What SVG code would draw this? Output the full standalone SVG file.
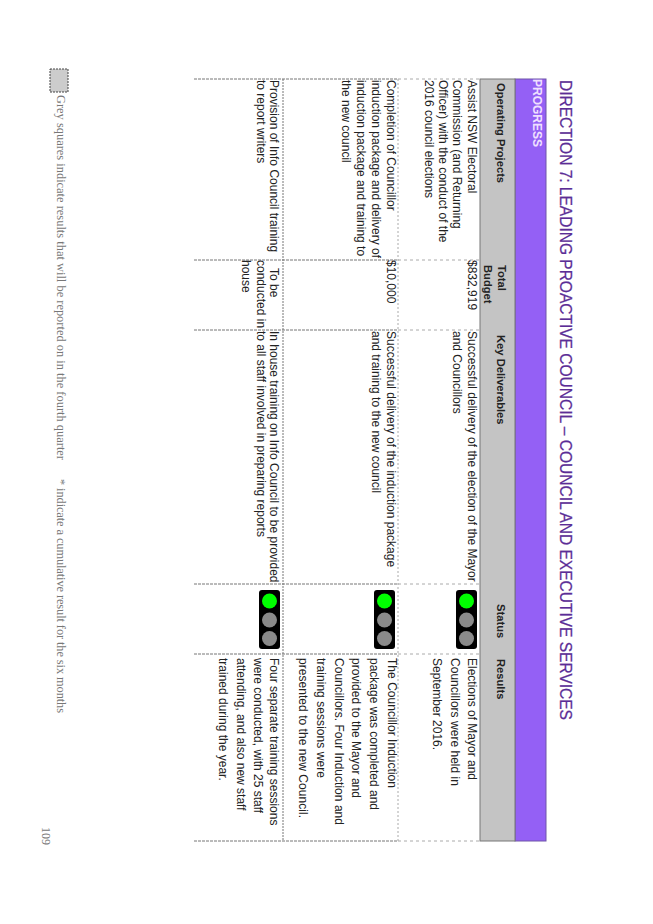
<svg xmlns="http://www.w3.org/2000/svg" width="653" height="924" viewBox="0 0 653 924">
<style>
text{font-family:"Liberation Sans",Arial,sans-serif;fill:#222}
.b{font-size:12px}
.h{font-size:11.2px;font-weight:bold}
.t{font-size:15.6px;fill:#5b2d96;stroke:#5b2d96;stroke-width:.25}
.p{font-size:12px;font-weight:bold;fill:#f0e0ff}
.f{font-family:"Liberation Serif",serif;font-size:12.4px;fill:#777}
.d{stroke:#777;stroke-width:1;stroke-dasharray:3 1;fill:none}
.l{stroke:#aaa;stroke-width:1;stroke-dasharray:3 3;fill:none}
.g{fill:#8a8a8a}
</style>
<rect width="653" height="924" fill="#fff"/>
<text class="t" transform="translate(560,80) rotate(90)" textLength="640">DIRECTION 7: LEADING PROACTIVE COUNCIL – COUNCIL AND EXECUTIVE SERVICES</text>
<g id="header">
<rect x="515" y="79" width="31" height="762" fill="#9460f5" stroke="#6f55a8"/>
<rect x="480" y="79" width="35" height="762" fill="#c4c4c4" stroke="#777"/>
<text class="p" transform="translate(533,79) rotate(90)">PROGRESS</text>
<text class="h" transform="translate(497,83) rotate(90)">Operating Projects</text>
<text class="h" transform="translate(498,265) rotate(90)">Total</text>
<text class="h" transform="translate(484,265) rotate(90)">Budget</text>
<text class="h" transform="translate(497,335) rotate(90)">Key Deliverables</text>
<text class="h" transform="translate(497,604) rotate(90)">Status</text>
<text class="h" transform="translate(497,659) rotate(90)">Results</text>
</g>
<g id="connectors">
<path class="d" d="M194 79H398M194 260H398M194 330H398M194 584H398M194 654H398M194 841H398"/>
<path class="l" d="M398 79H480M398 260H480M398 330H480M398 584H480M398 654H480M398 841H480"/>
<path d="M283 79V841" stroke="#777" stroke-dasharray="2 1" fill="none"/>
<path d="M398 79V841" stroke="#aaa" stroke-dasharray="2 2" fill="none"/>
</g>
<g id="row1">
<text class="b" transform="translate(468,80) rotate(90)">Assist NSW Electoral</text>
<text class="b" transform="translate(453,80) rotate(90)">Commission (and Returning</text>
<text class="b" transform="translate(439,80) rotate(90)">Officer) with the conduct of the</text>
<text class="b" transform="translate(425,80) rotate(90)">2016 council elections</text>
<text class="b" transform="translate(468,260) rotate(90)">$832,919</text>
<text class="b" transform="translate(468,331) rotate(90)">Successful delivery of the election of the Mayor</text>
<text class="b" transform="translate(453,331) rotate(90)">and Councillors</text>
<text class="b" transform="translate(468,658) rotate(90)" textLength="122">Elections of Mayor and</text>
<text class="b" transform="translate(451,658) rotate(90)" textLength="128">Councillors were held in</text>
<text class="b" transform="translate(433,658) rotate(90)">September 2016.</text>
<g id="light1"><rect x="456" y="590" width="21" height="59" rx="3" fill="#000"/><circle cx="466.500" cy="601" r="7.500" fill="#0f0"/><circle class="g" cx="466.500" cy="620" r="7.500"/><circle class="g" cx="466.500" cy="638.500" r="7.500"/></g>
</g>
<g id="row2">
<text class="b" transform="translate(387,80) rotate(90)">Completion of Councillor</text>
<text class="b" transform="translate(372,80) rotate(90)">induction package and delivery of</text>
<text class="b" transform="translate(357,80) rotate(90)">induction package and training to</text>
<text class="b" transform="translate(342,80) rotate(90)">the new council</text>
<text class="b" transform="translate(387,260) rotate(90)">$10,000</text>
<text class="b" transform="translate(387,331) rotate(90)">Successful delivery of the induction package</text>
<text class="b" transform="translate(372,331) rotate(90)">and training to the new council</text>
<text class="b" transform="translate(388,658) rotate(90)" textLength="130">The Councillor Induction</text>
<text class="b" transform="translate(370,658) rotate(90)" textLength="152">package was completed and</text>
<text class="b" transform="translate(352,658) rotate(90)" textLength="140">provided to the Mayor and</text>
<text class="b" transform="translate(335,658) rotate(90)" textLength="167">Councillors.  Four Induction and</text>
<text class="b" transform="translate(317,658) rotate(90)" textLength="120">training sessions were</text>
<text class="b" transform="translate(299,658) rotate(90)" textLength="160">presented to the new Council.</text>
<g id="light2"><rect x="374" y="590" width="21" height="59" rx="3" fill="#000"/><circle cx="384.500" cy="601" r="7.500" fill="#0f0"/><circle class="g" cx="384.500" cy="620" r="7.500"/><circle class="g" cx="384.500" cy="638.500" r="7.500"/></g>
</g>
<g id="row3">
<text class="b" transform="translate(270,80) rotate(90)">Provision of Info Council training</text>
<text class="b" transform="translate(257,80) rotate(90)">to report writers</text>
<text class="b" transform="translate(270,268) rotate(90)">To be</text>
<text class="b" transform="translate(257,260) rotate(90)">conducted in</text>
<text class="b" transform="translate(242,260) rotate(90)">house</text>
<text class="b" transform="translate(270,331) rotate(90)">In house training on Info Council to be provided</text>
<text class="b" transform="translate(257,331) rotate(90)">to all staff involved in preparing reports</text>
<text class="b" transform="translate(270,658) rotate(90)">Four separate training sessions</text>
<text class="b" transform="translate(254,658) rotate(90)">were conducted, with 25 staff</text>
<text class="b" transform="translate(237,658) rotate(90)">attending, and also new staff</text>
<text class="b" transform="translate(219,658) rotate(90)">trained during the year.</text>
<g id="light3"><rect x="259" y="590" width="21" height="59" rx="3" fill="#000"/><circle cx="269.500" cy="601" r="7.500" fill="#0f0"/><circle class="g" cx="269.500" cy="620" r="7.500"/><circle class="g" cx="269.500" cy="638.500" r="7.500"/></g>
</g>
<g id="footer">
<rect x="50" y="69" width="18" height="23" fill="#ccc" stroke="#444" stroke-dasharray="2 1"/>
<text class="f" transform="translate(57,95) rotate(90)" textLength="365">Grey squares indicate results that will be reported on in the fourth quarter</text>
<text class="f" transform="translate(57,479) rotate(90)" textLength="234">* indicate a cumulative result for the six months</text>
<text class="f" style="font-size:12px" transform="translate(42,827) rotate(90)">109</text>
</g>
</svg>
